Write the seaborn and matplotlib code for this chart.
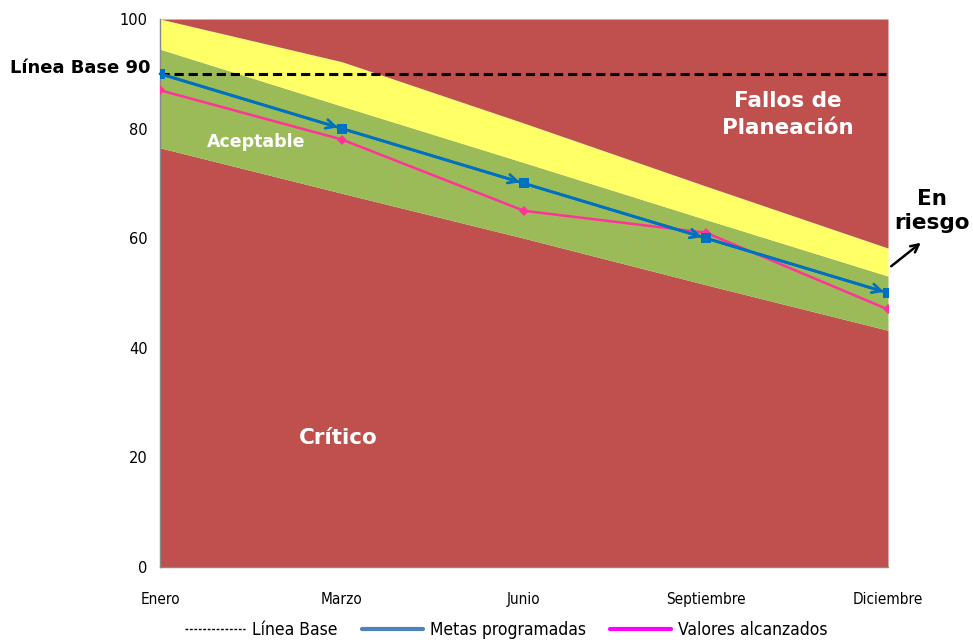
import numpy as np
import pandas as pd
import matplotlib
matplotlib.use('Agg')
import matplotlib.pyplot as plt
from matplotlib.lines import Line2D
import seaborn as sns

# data
meses = ['Enero', 'Marzo', 'Junio', 'Septiembre', 'Diciembre']
metas = [90, 80, 70, 60, 50]
valores = [87, 78, 65, 61, 47]
linea_base = 90
limite_critico = [76.5, 68.2, 60.0, 51.5, 43.2]
limite_aceptable = [94.5, 84.1, 73.8, 63.4, 53.1]
limite_riesgo = [100, 92.2, 81.0, 69.5, 58.2]
y_ticks = [0, 20, 40, 60, 80, 100]

ROJO = '#C0504D'
AMARILLO = '#FFFF66'
VERDE = '#9BBB59'
AZUL = '#0070C0'
ROSA = '#FF3399'

sns.set_style('white')
plt.rcParams['font.family'] = ['DejaVu Sans']
plt.rcParams['text.color'] = 'black'
plt.rcParams['xtick.color'] = 'black'
plt.rcParams['ytick.color'] = 'black'

df = pd.DataFrame({'pos': np.arange(len(meses)), 'mes': meses,
                   'metas': metas, 'valores': valores})

fig = plt.figure(figsize=(9.73, 6.43), dpi=100)
ax = fig.add_axes([160 / 973, 76 / 643, 728 / 973, 548 / 643])

x = df['pos']
# bands
ax.fill_between(x, 0, limite_critico, color=ROJO, lw=0)
ax.fill_between(x, limite_critico, limite_aceptable, color=VERDE, lw=0)
ax.fill_between(x, limite_aceptable, limite_riesgo, color=AMARILLO, lw=0)
ax.fill_between(x, limite_riesgo, 100, color=ROJO, lw=0)

ax.axhline(linea_base, color='black', ls=(0, (3, 1.6)), lw=2.2, zorder=3)

sns.lineplot(data=df, x='pos', y='valores', ax=ax, color=ROSA, lw=1.8,
             marker='D', markersize=5, markeredgewidth=0, zorder=4)
sns.lineplot(data=df, x='pos', y='metas', ax=ax, color=AZUL, lw=2,
             marker='s', markersize=7, markeredgewidth=0, zorder=5)
for i in range(len(meses) - 1):
    ax.annotate('', xy=(i + 1, metas[i + 1]), xytext=(i, metas[i]),
                arrowprops=dict(arrowstyle='->', color=AZUL, lw=2,
                                shrinkA=0, shrinkB=3, mutation_scale=16),
                zorder=6)

ax.set_xlim(0, len(meses) - 1)
ax.set_ylim(0, 100)
ax.set_xticks(x)
ax.set_xticklabels(meses, fontsize=11, fontstretch='condensed')
ax.set_yticks(y_ticks)
ax.set_yticklabels(y_ticks, fontsize=10.5)
ax.set_xlabel('')
ax.set_ylabel('')
ax.tick_params(axis='y', direction='out', length=5, color='#888888', pad=4)
ax.tick_params(axis='x', direction='out', length=4, color='#888888', pad=14)
for s in ['top', 'right']:
    ax.spines[s].set_visible(False)
for s in ['left', 'bottom']:
    ax.spines[s].set_color('#888888')
    ax.spines[s].set_linewidth(1)

# zone labels
ax.text(0.53, 77.5, 'Aceptable', color='white', fontsize=12.5,
        fontweight='bold', ha='center', va='center')
ax.text(3.45, 82.6, 'Fallos de\nPlaneación', color='white', fontsize=15.5,
        fontweight='bold', ha='center', va='center', linespacing=1.45)
ax.text(0.98, 23.5, 'Crítico', color='white', fontsize=15.5,
        fontweight='bold', ha='center', va='center')
fig.text(150 / 973, 1 - 68 / 643, 'Línea Base 90', fontsize=13,
         fontweight='bold', ha='right', va='center')
fig.text(932 / 973, 1 - 211 / 643, 'En\nriesgo', fontsize=15.5,
         fontweight='bold', ha='center', va='center', linespacing=1.3)
fig.add_artist(matplotlib.patches.FancyArrowPatch(
    (889 / 973, 1 - 268 / 643), (923 / 973, 1 - 241 / 643),
    transform=fig.transFigure, arrowstyle='->', mutation_scale=14,
    color='black', lw=1.8))

handles = [
    Line2D([], [], color='black', ls=(0, (2, 1.2)), lw=1),
    Line2D([], [], color='#4F81BD', lw=3),
    Line2D([], [], color='#FF00FF', lw=3),
]
leg = fig.legend(handles, ['Línea Base', 'Metas programadas', 'Valores alcanzados'],
                 loc='center', bbox_to_anchor=(0.52, 1 - 630 / 643), ncol=3,
                 frameon=False, handlelength=3.5, handletextpad=0.4,
                 columnspacing=1.4, prop={'size': 12.5, 'stretch': 'condensed'})

fig.savefig('out.png', dpi=100)
